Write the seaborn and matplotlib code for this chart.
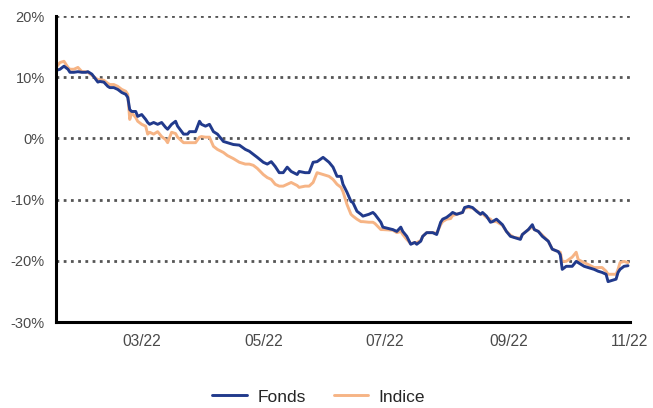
import matplotlib
matplotlib.use("Agg")
import matplotlib.pyplot as plt
import matplotlib.dates as mdates
import matplotlib.ticker as mticker
import seaborn as sns
import pandas as pd

dates = [
    "2022-01-17", "2022-01-19", "2022-01-21", "2022-01-23", "2022-01-24", "2022-01-26", "2022-01-28", "2022-01-30",
    "2022-02-01", "2022-02-02", "2022-02-04", "2022-02-07", "2022-02-08", "2022-02-10", "2022-02-12", "2022-02-13",
    "2022-02-15", "2022-02-17", "2022-02-19", "2022-02-21", "2022-02-22", "2022-02-23", "2022-02-24", "2022-02-26",
    "2022-02-27", "2022-03-01", "2022-03-03", "2022-03-04", "2022-03-05", "2022-03-07", "2022-03-09", "2022-03-11",
    "2022-03-13", "2022-03-14", "2022-03-16", "2022-03-18", "2022-03-19", "2022-03-22", "2022-03-24", "2022-03-25",
    "2022-03-28", "2022-03-30", "2022-03-31", "2022-04-02", "2022-04-04", "2022-04-06", "2022-04-08", "2022-04-11",
    "2022-04-13", "2022-04-16", "2022-04-19", "2022-04-22", "2022-04-24", "2022-04-26", "2022-04-28", "2022-05-01",
    "2022-05-03", "2022-05-05", "2022-05-07", "2022-05-09", "2022-05-11", "2022-05-13", "2022-05-15", "2022-05-18",
    "2022-05-19", "2022-05-22", "2022-05-24", "2022-05-26", "2022-05-28", "2022-05-31", "2022-06-03", "2022-06-05",
    "2022-06-07", "2022-06-09", "2022-06-10", "2022-06-12", "2022-06-14", "2022-06-15", "2022-06-17", "2022-06-19",
    "2022-06-20", "2022-06-23", "2022-06-25", "2022-06-26", "2022-06-29", "2022-06-30", "2022-07-05", "2022-07-07",
    "2022-07-09", "2022-07-10", "2022-07-12", "2022-07-14", "2022-07-16", "2022-07-17", "2022-07-19", "2022-07-20",
    "2022-07-22", "2022-07-25", "2022-07-27", "2022-07-29", "2022-07-30", "2022-08-01", "2022-08-03", "2022-08-04",
    "2022-08-06", "2022-08-09", "2022-08-10", "2022-08-12", "2022-08-14", "2022-08-16", "2022-08-18", "2022-08-19",
    "2022-08-21", "2022-08-23", "2022-08-24", "2022-08-26", "2022-08-29", "2022-08-31", "2022-09-02", "2022-09-04",
    "2022-09-07", "2022-09-08", "2022-09-11", "2022-09-13", "2022-09-14", "2022-09-16", "2022-09-18", "2022-09-21",
    "2022-09-23", "2022-09-26", "2022-09-27", "2022-09-28", "2022-09-30", "2022-10-03", "2022-10-05", "2022-10-06",
    "2022-10-09", "2022-10-11", "2022-10-14", "2022-10-16", "2022-10-18", "2022-10-20", "2022-10-21", "2022-10-25",
    "2022-10-26", "2022-10-27", "2022-10-29", "2022-10-31",
]

fonds = [
    11.1, 11.3, 11.8, 11.3, 10.8, 10.8, 10.9, 10.8,
    10.8, 10.9, 10.5, 9.2, 9.3, 9.2, 8.5, 8.3,
    8.3, 8.0, 7.5, 7.2, 6.7, 4.7, 4.4, 4.4,
    3.6, 3.9, 3.1, 2.6, 2.3, 2.6, 2.3, 2.6,
    1.8, 1.5, 2.3, 2.8, 2.0, 0.7, 0.7, 1.1,
    1.1, 2.8, 2.3, 2.0, 2.3, 1.1, 0.7, -0.5,
    -0.7, -1.0, -1.1, -1.8, -2.1, -2.6, -3.1, -3.9,
    -4.2, -3.8, -4.6, -5.6, -5.6, -4.7, -5.4, -5.9,
    -5.4, -5.6, -5.6, -3.9, -3.8, -3.1, -3.9, -4.7,
    -6.2, -6.2, -7.5, -8.8, -10.3, -10.5, -11.9, -12.4,
    -12.7, -12.4, -12.1, -12.4, -13.7, -14.5, -14.9, -15.2,
    -14.5, -15.2, -16.0, -17.3, -17.0, -17.3, -16.8, -16.0,
    -15.4, -15.4, -15.7, -13.7, -13.2, -12.9, -12.4, -12.1,
    -12.4, -12.1, -11.3, -11.1, -11.3, -11.9, -12.4, -12.1,
    -12.7, -13.7, -13.6, -13.2, -14.1, -15.2, -16.0, -16.2,
    -16.5, -15.7, -14.9, -14.1, -14.9, -15.2, -16.0, -16.8,
    -18.1, -18.5, -19.0, -21.4, -20.9, -20.9, -20.1, -20.3,
    -20.9, -21.1, -21.4, -21.7, -21.9, -22.2, -23.4, -23.0,
    -21.9, -21.4, -20.9, -20.8,
]

indice = [
    11.6, 12.4, 12.6, 11.6, 11.3, 11.3, 11.6, 10.9,
    10.9, 10.8, 10.3, 9.6, 9.6, 9.5, 9.0, 8.8,
    8.8, 8.5, 8.0, 7.7, 7.2, 3.1, 4.2, 3.4,
    2.8, 2.3, 2.0, 0.7, 1.0, 0.7, 1.1, 0.3,
    -0.2, -0.7, 1.0, 0.8, 0.2, -0.7, -0.7, -0.7,
    -0.7, 0.2, 0.3, 0.2, 0.2, -1.3, -1.8, -2.3,
    -2.8, -3.3, -3.9, -4.2, -4.2, -4.4, -4.9, -5.9,
    -6.4, -6.7, -7.5, -7.8, -7.8, -7.5, -7.2, -7.7,
    -8.0, -7.8, -7.8, -7.2, -5.6, -5.9, -6.2, -6.7,
    -7.5, -8.0, -8.7, -10.8, -12.4, -12.7, -13.2, -13.6,
    -13.6, -13.7, -13.7, -13.9, -14.9, -14.9, -15.0, -15.4,
    -15.2, -15.7, -16.5, -17.2, -17.0, -17.0, -16.7, -16.0,
    -15.4, -15.4, -15.5, -14.1, -13.6, -13.2, -13.1, -12.6,
    -12.4, -12.1, -11.4, -11.3, -11.4, -11.8, -12.4, -12.3,
    -12.9, -13.2, -13.6, -13.6, -14.2, -15.2, -15.8, -16.2,
    -16.3, -15.7, -14.9, -14.5, -14.9, -15.2, -15.8, -16.8,
    -18.1, -18.5, -18.6, -20.1, -20.1, -19.4, -18.6, -19.8,
    -20.3, -20.6, -21.1, -21.1, -21.1, -21.7, -22.2, -22.2,
    -21.4, -20.3, -20.1, -20.3,
]

series_names = ["Fonds", "Indice"]
colors = ["#213A8C", "#F6B485"]
y_ticks = [-30, -20, -10, 0, 10, 20]
x_ticks = ["2022-03-01", "2022-05-01", "2022-07-01", "2022-09-01", "2022-11-01"]

df = pd.DataFrame({
    "date": pd.to_datetime(dates * 2),
    "value": fonds + indice,
    "serie": [series_names[0]] * len(dates) + [series_names[1]] * len(dates),
})

sns.set_theme(style="white")
plt.rcParams["font.family"] = ["Liberation Sans", "DejaVu Sans"]

fig = plt.figure(figsize=(6.53, 4.08), dpi=100)
ax = fig.add_axes([56 / 653, 1 - 322 / 408, (630 - 56) / 653, (322 - 16) / 408])

# draw Indice first, then Fonds on top
sns.lineplot(data=df[df["serie"] == "Indice"], x="date", y="value", color=colors[1],
             linewidth=2.1, ax=ax, label="Indice", zorder=2)
sns.lineplot(data=df[df["serie"] == "Fonds"], x="date", y="value", color=colors[0],
             linewidth=2.1, ax=ax, label="Fonds", zorder=3)

ax.set_ylim(-30, 20)
ax.set_xlim(pd.Timestamp("2022-01-17"), pd.Timestamp("2022-11-01"))
ax.set_yticks(y_ticks)
ax.yaxis.set_major_formatter(mticker.FuncFormatter(lambda v, p: f"{int(v)}%"))
ax.set_xticks(pd.to_datetime(x_ticks))
ax.xaxis.set_major_formatter(mdates.DateFormatter("%m/%y"))
ax.set_xlabel("")
ax.set_ylabel("")

for yv in y_ticks[1:]:
    ax.axhline(yv, color="#555555", linestyle=(0, (1, 1.6)), linewidth=2.0, zorder=1)

for s in ["top", "right"]:
    ax.spines[s].set_visible(False)
for s in ["left", "bottom"]:
    ax.spines[s].set_color("black")
    ax.spines[s].set_linewidth(2.2)
    ax.spines[s].set_zorder(4)

ax.tick_params(axis="y", length=0, labelsize=10.5, labelcolor="#4a4a4a", pad=8)
ax.tick_params(axis="x", length=0, labelsize=11.2, labelcolor="#4a4a4a", pad=9)

handles, labels = ax.get_legend_handles_labels()
order = [labels.index("Fonds"), labels.index("Indice")]
ax.legend([handles[i] for i in order], [labels[i] for i in order],
          loc="center", bbox_to_anchor=(0.458, -0.245), ncol=2, frameon=False,
          fontsize=12.5, handlelength=2.0, columnspacing=1.6, handletextpad=0.6)

fig.savefig("out.png", dpi=100)
